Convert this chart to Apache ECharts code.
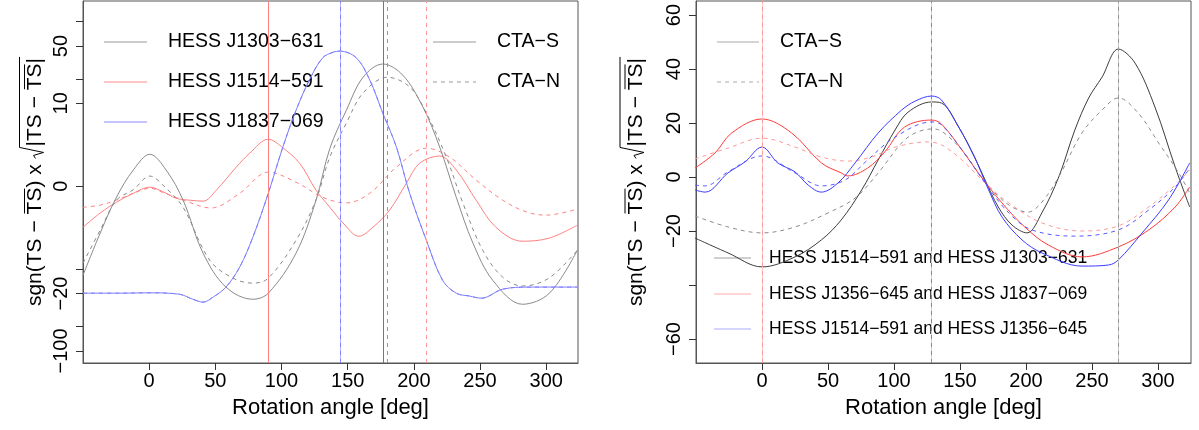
<!DOCTYPE html>
<html>
<head>
<meta charset="utf-8">
<script src="https://cdn.jsdelivr.net/npm/echarts@6/dist/echarts.min.js"></script>
<style>
  html, body { margin: 0; padding: 0; background: #fff; }
  #chart { width: 1199px; height: 430px; }
</style>
</head>
<body>
<div id="chart"></div>
<script>
// ---- data: [rotation angle (deg), value] ----
// left panel values are in the plotted (compressed) unit u = asinh(v / 2)
const leftJ1303S = [[-50,-2.49],[-37,-1.31],[-24.7,-0.31],[-12,0.45],[0.5,0.89],[12.8,0.45],[25.6,-0.39],[40.7,-1.87],[58,-2.82],[78.4,-3.16],[90,-2.99],[111,-1.87],[126,-0.4],[136.5,1.05],[149,2.12],[161.6,3.04],[176.5,3.41],[191.6,3.1],[206.8,2.21],[219.5,1.09],[232,-0.31],[244.6,-1.59],[259.6,-2.63],[282,-3.3],[302.4,-2.99],[323.5,-1.79]]
const leftJ1303N = [[-50,-2.15],[-37,-1.23],[-24.7,-0.39],[-12,-0.1],[0.5,0.28],[12.8,-0.06],[25.6,-0.59],[45.8,-2.07],[63.3,-2.57],[78.4,-2.71],[90,-2.57],[111,-1.51],[126,-0.39],[136.5,0.81],[149,1.76],[161.6,2.6],[180,3.04],[196.8,2.77],[209.4,2.04],[224.5,0.81],[237,-0.47],[252,-1.79],[267,-2.54],[282,-2.79],[302,-2.57],[323.5,-1.79]]
const leftJ1514S = [[-50,-1.15],[-37,-0.75],[-24.7,-0.45],[-12,-0.2],[0.5,-0.03],[10,-0.15],[20.5,-0.34],[30,-0.39],[40.7,-0.42],[50.8,-0.11],[65.8,0.53],[76,0.92],[90,1.31],[100,1.1],[113.6,0.64],[126,-0.11],[136.5,-0.59],[146.5,-1.03],[158.4,-1.4],[169,-1.15],[181.7,-0.67],[194.3,0.08],[204.4,0.64],[219.5,0.84],[232,0.45],[247,-0.39],[262,-1.15],[282,-1.54],[302.4,-1.45],[323.5,-1.09]]
const leftJ1514N = [[-50,-0.59],[-37,-0.53],[-24.7,-0.39],[-12,-0.2],[0.5,-0.06],[12,-0.2],[25.6,-0.39],[46.8,-0.61],[68.4,-0.2],[90,0.39],[111,0.11],[131,-0.31],[149,-0.47],[166.7,-0.2],[186.8,0.53],[209.4,1.06],[227,0.81],[247,0.17],[267,-0.39],[285,-0.72],[300,-0.81],[323.5,-0.64]]
const leftJ1837 = [[-50,-2.99],[-24.7,-2.99],[0.5,-2.98],[23,-3.02],[33,-3.16],[40.7,-3.24],[48.3,-3.1],[58,-2.82],[68.4,-2.26],[78.4,-1.42],[90,-0.2],[101,1.09],[111,2.12],[121,2.96],[131,3.58],[139,3.74],[144,3.77],[156.6,3.58],[166.7,2.96],[176.5,2.04],[186.8,1.09],[196.8,-0.2],[209.4,-1.51],[221.7,-2.63],[232,-2.99],[242,-3.07],[251,-3.13],[267,-2.88],[287,-2.82],[323.5,-2.82]]

// right panel, pairs of sources
const rightA_S = [[-50.8,-22.6],[-25.8,-28.1],[0,-33.3],[25,-29.6],[45,-23.3],[60,-15.9],[75.5,-4.8],[88,6.3],[100.8,17.4],[110.6,24],[128.5,27.8],[136,27.4],[149,18.5],[161,7.4],[169,-1.1],[179,-11.1],[189.4,-17.8],[200.8,-20.7],[212,-13.3],[224.8,0],[237,17.4],[247.5,29.3],[257.6,37],[270,47.4],[282.6,42.2],[297.7,25.9],[313,3.7],[324,-11.1]]
const rightA_N = [[-50.8,-14.4],[-25.8,-18.5],[0,-20.7],[25,-18.5],[50,-13.3],[70.5,-7.8],[88,1.5],[105.8,12.6],[116,16.3],[128.5,17.8],[136,17],[151.5,10],[164,1.5],[176.5,-5.9],[189.4,-11.1],[201.5,-13],[212,-9.3],[224.8,0],[242.4,16.3],[257.6,24.8],[270,29.3],[285,23.7],[300.5,12.6],[315.7,1.5],[324,-5.9]]
const rightB_S = [[-50.8,3.3],[-35.6,8.9],[-23,16.3],[0,21.5],[22.5,16.3],[45,5.2],[60,1.5],[65,0.4],[80,3.3],[93,9.3],[108,18.5],[128.5,21.1],[136,19.6],[151.5,10],[166.7,-0.4],[181.8,-9.6],[199,-18.5],[217,-25.2],[242.4,-29.6],[270,-25.9],[293,-19.6],[313,-11.1],[324,-3.7]]
const rightB_N = [[-50.8,6.7],[-25.8,10.7],[0,14.4],[25,11.1],[45,7.4],[65,5.9],[83,7.4],[101,11.1],[126,13],[136,11.9],[151.5,6.3],[169,-2.2],[187,-9.6],[212,-17],[242.4,-20],[270,-18.1],[293,-11.1],[313,-3],[324,2.6]]
const rightC_S = [[-50.8,-4.8],[-43,-5.6],[-25.8,1.5],[-12.9,5.6],[0,11.1],[12,5.2],[25,1.9],[35,-3],[45,-5.6],[57.6,-2.2],[70.5,5.2],[88,16.3],[105.8,24.8],[116,28.1],[128.5,30],[136,28.5],[149,18.5],[161,7.4],[171.7,-4.8],[181.8,-14.8],[197,-23.3],[212,-28.1],[242.4,-33],[262.6,-32.6],[270,-30.7],[288,-20.7],[308,-8.5],[324,5.2]]
const rightC_N = [[-50.8,-3],[-43,-3.3],[-25.8,1.9],[0,7.8],[25,1.5],[45,-3.3],[63,-1.1],[80,6.3],[100.8,14.8],[128.5,20.4],[136,19.3],[151.5,10],[169,-2.2],[187,-13.3],[204.5,-19.6],[237,-21.9],[270,-19.6],[293,-12.2],[313,-3.7],[324,3.3]]

// angles of the maxima (vertical lines)
const leftPeaks = { j1303S: 176.5, j1303N: 180, j1514S: 90, j1514N: 209, j1837: 144 }
const rightPeaks = { a: 270, b: 0, c: 128.5 }

// tick values
const angleTicks = [0, 50, 100, 150, 200, 250, 300]
const leftTicks = [-100, -50, -20, -10, 0, 10, 20, 50, 100]
const leftTickLabels = [-100, -20, 0, 10, 50]
const rightTicks = [-60, -40, -20, 0, 20, 40, 60]
const rightTickLabels = [-60, -20, 0, 20, 40, 60]

const FONT = 'Liberation Sans'
const squash = v => Math.asinh(v / 2)
const unsquash = u => Math.round(2 * Math.sinh(u))
const minus = n => String(n).replace('-', '\u2212')

const chart = echarts.init(document.getElementById('chart'))

// vertical line at a peak
const vline = (x, color, type) => ({
  silent: true, symbol: ['none', 'none'], label: { show: false },
  lineStyle: { color: color, width: 1, type: type },
  emphasis: { disabled: true },
  data: [{ xAxis: x }]
})

const curve = (idx, data, color, dashed, marks) => ({
  type: 'line', xAxisIndex: idx, yAxisIndex: idx, data: data,
  smooth: 0.35, symbol: 'none', silent: true, z: 3,
  lineStyle: { color: color, width: 1, type: dashed ? [4, 4] : 'solid' },
  markLine: marks
})

const xAxis = (idx, max) => ({
  type: 'value', gridIndex: idx, min: -50, max: max,
  name: 'Rotation angle [deg]', nameLocation: 'middle', nameGap: 34,
  nameTextStyle: { fontFamily: FONT, fontSize: 22, color: '#000' },
  axisLine: { show: true, onZero: false, lineStyle: { color: '#555' } },
  axisTick: { show: true, length: 7, customValues: angleTicks, lineStyle: { color: '#333' } },
  axisLabel: { customValues: angleTicks, margin: 8, fontFamily: FONT, fontSize: 20, color: '#000' },
  splitLine: { show: false }
})

// y axis title built from pieces: sgn(TS - TS̄) x √|TS - TS̄|
function yTitle(cx, cy) {
  const size = 21
  const ctx = document.createElement('canvas').getContext('2d')
  ctx.font = size + 'px "' + FONT + '"'
  const w = s => ctx.measureText(s).width
  const parts = []
  let x = 0
  const txt = s => {
    parts.push({ type: 'text', x: x, y: 0, style: { text: s, fontFamily: FONT, fontSize: size, fill: '#000', align: 'left', verticalAlign: 'middle' } })
    x += w(s)
  }
  const bar = (x0, x1, y) => parts.push({ type: 'line', shape: { x1: x0, y1: y, x2: x1, y2: y }, style: { stroke: '#000', lineWidth: 1 } })
  txt('sgn(TS \u2212 ')
  let a = x; txt('TS'); bar(a + 1, x - 1, -11)
  txt(') x ')
  const r = x
  x = r + 12
  txt('|TS \u2212 ')
  a = x; txt('TS'); bar(a + 1, x - 1, -11)
  txt('|')
  parts.push({ type: 'polyline', shape: { points: [[r, 0], [r + 3, -2], [r + 6, 8], [r + 11, -16], [x + 1, -16]] }, style: { stroke: '#000', lineWidth: 1, fill: null } })
  return { type: 'group', x: cx, y: cy, rotation: Math.PI / 2, children: [{ type: 'group', x: -x / 2, children: parts }] }
}

// legend pieces
function legend(x0, x1, xt, rows, size) {
  const out = []
  rows.forEach(r => {
    out.push({ type: 'line', shape: { x1: x0, y1: r.y, x2: x1, y2: r.y }, style: { stroke: r.color, lineWidth: 1, lineDash: r.dashed ? [4, 4] : null } })
    out.push({ type: 'text', x: xt, y: r.y, style: { text: r.text, fontFamily: FONT, fontSize: size, fill: '#000', verticalAlign: 'middle' } })
  })
  return out
}

const GL = '#8a8a8a', RL = '#ff8080', BL = '#7f7fff'

const yAxisBase = {
  type: 'value',
  axisLine: { show: true, onZero: false, lineStyle: { color: '#555' } },
  splitLine: { show: false }
}

const option = {
  backgroundColor: '#fff',
  animation: false,
  grid: [
    { left: 83, top: 1, width: 495, height: 362, show: true, borderColor: '#555', borderWidth: 1, outerBoundsMode: 'none' },
    { left: 696, top: 1, width: 495, height: 362, show: true, borderColor: '#555', borderWidth: 1, outerBoundsMode: 'none' }
  ],
  xAxis: [xAxis(0, 324), xAxis(1, 325)],
  yAxis: [
    Object.assign({}, yAxisBase, {
      gridIndex: 0, min: -4.94, max: 5.17,
      axisTick: { show: true, length: 7, customValues: leftTicks.map(squash), lineStyle: { color: '#333' } },
      axisLabel: { customValues: leftTickLabels.map(squash), formatter: v => minus(unsquash(v)), rotate: 90, margin: 12, fontFamily: FONT, fontSize: 20, color: '#000' }
    }),
    Object.assign({}, yAxisBase, {
      gridIndex: 1, min: -68.9, max: 65.2,
      axisTick: { show: true, length: 7, customValues: rightTicks, lineStyle: { color: '#333' } },
      axisLabel: { customValues: rightTickLabels, formatter: v => minus(v), rotate: 90, margin: 12, fontFamily: FONT, fontSize: 20, color: '#000' }
    })
  ],
  series: [
    curve(0, leftJ1514S, RL, false, vline(leftPeaks.j1514S, '#ff8080', 'solid')),
    curve(0, leftJ1514N, RL, true, vline(leftPeaks.j1514N, '#ff9999', [4, 4])),
    curve(0, leftJ1303S, GL, false, vline(leftPeaks.j1303S, '#777', 'solid')),
    curve(0, leftJ1303N, GL, true, vline(leftPeaks.j1303N, '#999', [4, 4])),
    curve(0, leftJ1837, BL, false, vline(leftPeaks.j1837, '#b3b3ff', 'solid')),
    curve(0, leftJ1837, BL, true, vline(leftPeaks.j1837, '#8080ff', [4, 4])),

    curve(1, rightA_S, '#3c3c3c', false, vline(rightPeaks.a, '#c8c8c8', 'solid')),
    curve(1, rightA_N, '#8c8c8c', true, vline(rightPeaks.a, '#999', [4, 4])),
    curve(1, rightB_S, '#ff3b3b', false, vline(rightPeaks.b, '#ffc8c8', 'solid')),
    curve(1, rightB_N, '#ff9a9a', true, vline(rightPeaks.b, '#ff9a9a', [4, 4])),
    curve(1, rightC_S, '#3b3bff', false, vline(rightPeaks.c, '#c8c8ff', 'solid')),
    curve(1, rightC_N, '#5a5aff', true, vline(rightPeaks.c, '#7a7aff', [4, 4]))
  ],
  graphic: [
    yTitle(35.5, 182),
    yTitle(636, 182),
    ...legend(104, 147, 168, [
      { y: 42, color: '#999', text: 'HESS J1303\u2212631' },
      { y: 82, color: '#ff8a8a', text: 'HESS J1514\u2212591' },
      { y: 122, color: '#8a8aff', text: 'HESS J1837\u2212069' }
    ], 19.5),
    ...legend(433, 476, 497, [
      { y: 42, color: '#999', text: 'CTA\u2212S' },
      { y: 82, color: '#999', text: 'CTA\u2212N', dashed: true }
    ], 19.5),
    ...legend(717, 759, 780, [
      { y: 42, color: '#aaa', text: 'CTA\u2212S' },
      { y: 82, color: '#aaa', text: 'CTA\u2212N', dashed: true }
    ], 19.5),
    ...legend(714, 751, 769, [
      { y: 258, color: '#a0a0a0', text: 'HESS J1514\u2212591 and HESS J1303\u2212631' },
      { y: 294, color: '#ffaaaa', text: 'HESS J1356\u2212645 and HESS J1837\u2212069' },
      { y: 329, color: '#aaaaff', text: 'HESS J1514\u2212591 and HESS J1356\u2212645' }
    ], 17.5)
  ]
}

chart.setOption(option)
</script>
</body>
</html>
